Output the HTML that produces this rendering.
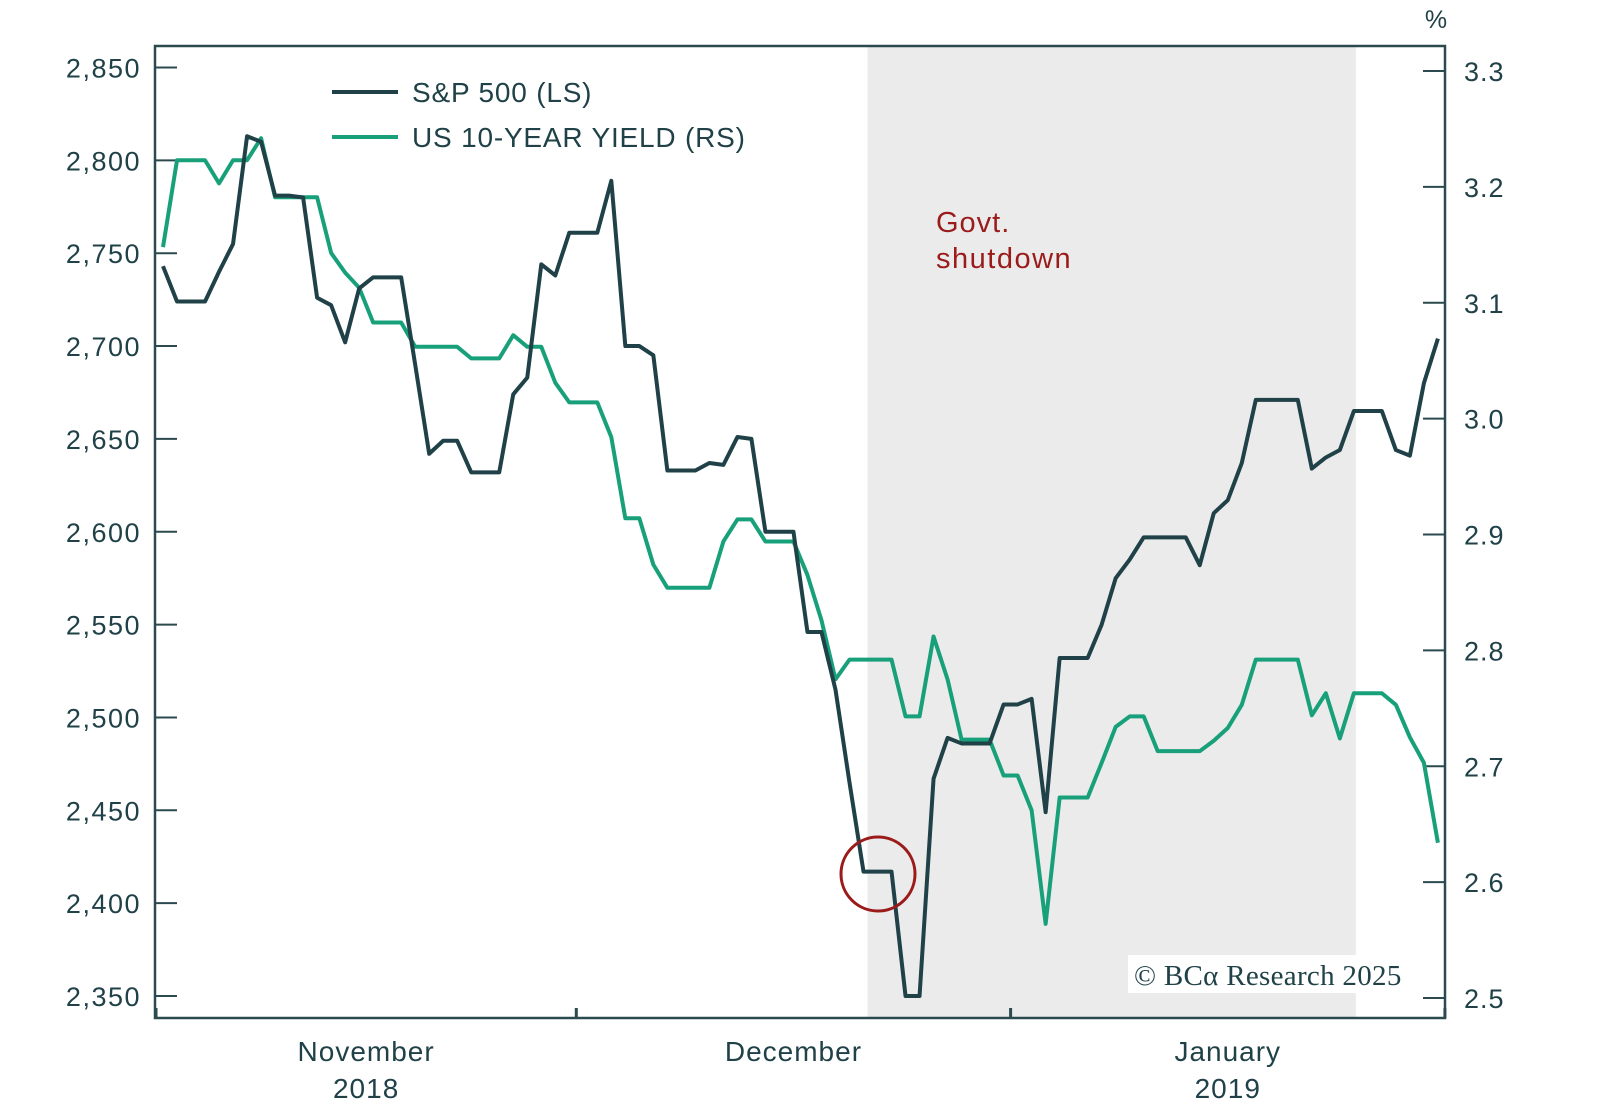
<!DOCTYPE html>
<html><head><meta charset="utf-8"><style>
html,body{margin:0;padding:0;background:#fff;}
svg{display:block;font-family:"Liberation Sans",sans-serif;}
</style></head><body>
<svg id="chart" width="1600" height="1109" viewBox="0 0 1600 1109">
<g id="bg"></g>
<g id="axes"></g>
<g id="series"></g>
<g id="annot"></g>
</svg>
<script>
const spxValues=[2743,2724,2724,2724,2740,2755,2813,2810,2781,2781,2780,2726,2722,2702,2731,2737,2737,2737,2690,2642,2649,2649,2632,2632,2632,2674,2683,2744,2738,2761,2761,2761,2789,2700,2700,2695,2633,2633,2633,2637,2636,2651,2650,2600,2600,2600,2546,2546,2515,2465,2417,2417,2417,2350,2350,2467,2489,2486,2486,2486,2507,2507,2510,2449,2532,2532,2532,2550,2575,2585,2597,2597,2597,2597,2582,2610,2617,2637,2671,2671,2671,2671,2634,2640,2644,2665,2665,2665,2644,2641,2680,2704];
const yieldValues=[3.148,3.223,3.223,3.223,3.203,3.223,3.223,3.242,3.191,3.191,3.191,3.191,3.143,3.126,3.113,3.083,3.083,3.083,3.062,3.062,3.062,3.062,3.052,3.052,3.052,3.072,3.062,3.062,3.031,3.014,3.014,3.014,2.984,2.914,2.914,2.874,2.854,2.854,2.854,2.854,2.894,2.913,2.913,2.894,2.894,2.894,2.865,2.826,2.775,2.792,2.792,2.792,2.792,2.743,2.743,2.812,2.775,2.723,2.723,2.723,2.692,2.692,2.662,2.564,2.673,2.673,2.673,2.703,2.734,2.743,2.743,2.713,2.713,2.713,2.713,2.722,2.733,2.753,2.792,2.792,2.792,2.792,2.744,2.763,2.724,2.763,2.763,2.763,2.753,2.725,2.703,2.634];
const leftTicks=[2850,2800,2750,2700,2650,2600,2550,2500,2450,2400,2350];
const rightTicks=[3.3,3.2,3.1,3.0,2.9,2.8,2.7,2.6,2.5];
const monthLabels=["November","December","January"];
const yearLabels=["2018","","2019"];
const monthStartIdx=[0,30,61,92];
const shutdownStartIdx=50.5;
const shutdownEndIdx=85;

const NS="http://www.w3.org/2000/svg";
const L=155,R=1445,T=46,B=1018;
const xS=i=>163+i*14.01;
const yL=v=>67.5+(2850-v)*928.5/500;
const yR=v=>71+(3.3-v)*927/0.8;
const DARK="#1f4147",GREEN="#17a07a",AX="#2b4a4f",RED="#9b1b1b";
function mk(tag,attrs,parent,text){const e=document.createElementNS(NS,tag);for(const k in attrs)e.setAttribute(k,attrs[k]);if(text!==undefined)e.textContent=text;parent.appendChild(e);return e;}
const bg=document.getElementById('bg'),ax=document.getElementById('axes'),se=document.getElementById('series'),an=document.getElementById('annot');

const sx0=xS(shutdownStartIdx)-3,sx1=xS(shutdownEndIdx)+2;
const shade=mk('rect',{x:sx0,y:T,width:sx1-sx0,height:B-T,fill:"#ebebeb"},bg);



const frame=mk('path',{d:`M${L},${B} L${L},${T} L${R},${T} L${R},${B} Z`,fill:"none",stroke:AX,"stroke-width":2.5},ax);



leftTicks.forEach(v=>{
  const y=yL(v);
  const t=mk('line',{x1:L,x2:L+22,y1:y,y2:y,stroke:AX,"stroke-width":2},ax);
  
  
  const lb=mk('text',{x:141,y:y+10,"text-anchor":"end","font-size":27,"letter-spacing":1.5,fill:DARK},ax,v.toLocaleString('en-US'));
  
  
});
rightTicks.forEach(v=>{
  const y=yR(v);
  const t=mk('line',{x1:R-22,x2:R,y1:y,y2:y,stroke:AX,"stroke-width":2},ax);
  
  
  const lb=mk('text',{x:1464,y:y+10,"font-size":27,"letter-spacing":1,fill:DARK},ax,v.toFixed(1));
  
  
});
const pct=mk('text',{x:1436,y:28,"font-size":25,fill:DARK,"text-anchor":"middle"},ax,"%");



monthStartIdx.forEach((m,k)=>{
  const x=Math.min(R,Math.max(L,xS(m-0.5)));
  const t=mk('line',{x1:x,x2:x,y1:B,y2:B-10,stroke:AX,"stroke-width":3},ax);
  
  
  if(k<monthLabels.length){
    const xc=(Math.max(L,xS(m-0.5))+Math.min(R,xS(monthStartIdx[k+1]-0.5)))/2;
    const ml=mk('text',{x:xc,y:1061,"text-anchor":"middle","font-size":28,"letter-spacing":1,fill:DARK},ax,monthLabels[k]);
    
    
    if(yearLabels[k]){
      const yl=mk('text',{x:xc,y:1098,"text-anchor":"middle","font-size":28,"letter-spacing":1,fill:DARK},ax,yearLabels[k]);
      
      
    }
  }
});

const g=mk('polyline',{points:yieldValues.map((v,i)=>xS(i)+','+yR(v)).join(' '),fill:"none",stroke:GREEN,"stroke-width":4,"stroke-linejoin":"round"},se);


const s=mk('polyline',{points:spxValues.map((v,i)=>xS(i)+','+yL(v)).join(' '),fill:"none",stroke:DARK,"stroke-width":4,"stroke-linejoin":"round"},se);



const l1=mk('line',{x1:332,x2:398,y1:92,y2:92,stroke:DARK,"stroke-width":4},an);


const t1=mk('text',{x:412,y:102,"font-size":28,"letter-spacing":0.8,fill:DARK},an,"S&P 500 (LS)");


const l2=mk('line',{x1:332,x2:398,y1:137,y2:137,stroke:GREEN,"stroke-width":4},an);


const t2=mk('text',{x:412,y:147,"font-size":28,"letter-spacing":0.8,fill:DARK},an,"US 10-YEAR YIELD (RS)");



const a1=mk('text',{x:936,y:232,"font-size":29,"letter-spacing":1,fill:RED},an,"Govt.");


const a2=mk('text',{x:936,y:268,"font-size":29,"letter-spacing":1.5,fill:RED},an,"shutdown");


const c=mk('circle',{cx:878,cy:874,r:37,fill:"none",stroke:RED,"stroke-width":3},an);


const cb=mk('rect',{x:1128,y:955,width:300,height:38,fill:"#ffffff"},an);


const ct=mk('text',{x:1134,y:985,"font-size":29,"letter-spacing":0.3,fill:DARK,"font-family":"Liberation Serif, serif"},an,"© BCα Research 2025");


</script>
</body></html>
